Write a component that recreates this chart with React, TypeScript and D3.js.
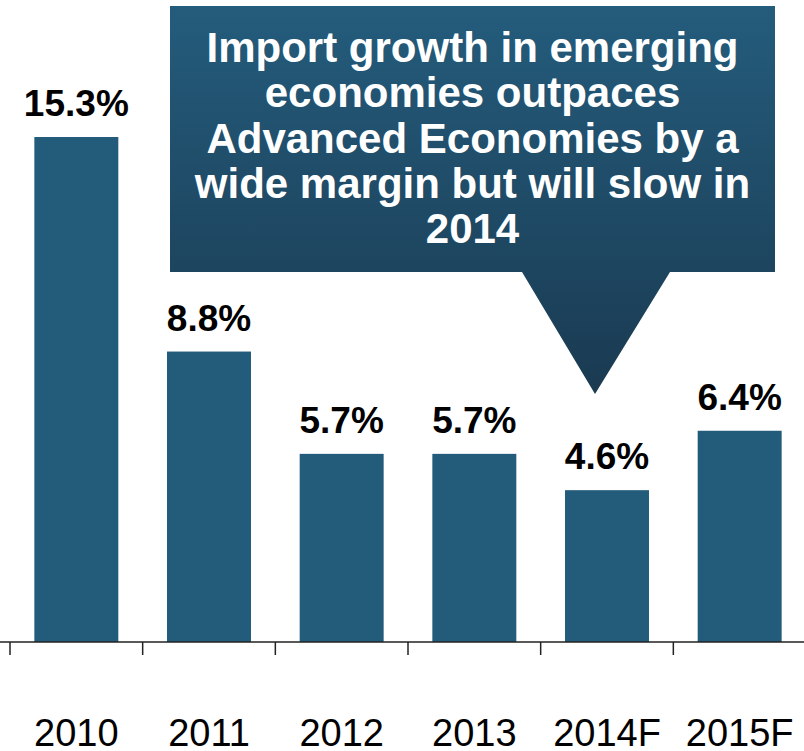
import React from 'react';
import * as d3 from 'd3';

const years = ['2010', '2011', '2012', '2013', '2014F', '2015F'];
const growth = [15.3, 8.8, 5.7, 5.7, 4.6, 6.4];
const calloutLines = [
  'Import growth in emerging',
  'economies outpaces',
  'Advanced Economies by a',
  'wide margin but will slow in',
  '2014',
];

const W = 804;
const H = 751;

const App: React.FC = () => {
  const baseY = 642;

  const x = d3.scaleBand<string>()
    .domain(years)
    .range([10, 806])
    .paddingInner(0.367)
    .paddingOuter(0.367 / 2);

  const y = d3.scaleLinear()
    .domain([0, 15.3])
    .range([baseY, 137]);

  const step = x.step();
  const tickXs = d3.range(years.length + 1).map(i => 10 + i * step);

  // callout geometry
  const box = { x0: 170, x1: 775, y0: 6, y1: 272 };
  const tip = { x: 595, y: 394, left: 522, right: 670 };
  const calloutPath = d3.path();
  calloutPath.moveTo(box.x0, box.y0);
  calloutPath.lineTo(box.x1, box.y0);
  calloutPath.lineTo(box.x1, box.y1);
  calloutPath.lineTo(tip.right, box.y1);
  calloutPath.lineTo(tip.x, tip.y);
  calloutPath.lineTo(tip.left, box.y1);
  calloutPath.lineTo(box.x0, box.y1);
  calloutPath.closePath();

  const font = '"Liberation Sans", Arial, sans-serif';

  return (
    <div style={{ position: 'absolute', left: 0, top: 0 }}>
      <svg width={W} height={H} style={{ display: 'block', background: '#fff' }}>
        <defs>
          <linearGradient id="callGrad" x1="0" y1={box.y0} x2="0" y2={tip.y} gradientUnits="userSpaceOnUse">
            <stop offset="0" stopColor="#245c7c" />
            <stop offset="1" stopColor="#1a3a51" />
          </linearGradient>
        </defs>

        {/* bars */}
        {years.map((yr, i) => (
          <rect
            key={yr}
            x={x(yr)}
            y={y(growth[i])}
            width={x.bandwidth()}
            height={baseY - y(growth[i])}
            fill="#235b7a"
          />
        ))}

        {/* value labels */}
        {years.map((yr, i) => (
          <text
            key={yr}
            x={(x(yr) || 0) + x.bandwidth() / 2}
            y={y(growth[i]) - 21}
            textAnchor="middle"
            fontFamily={font}
            fontWeight="bold"
            fontSize={37}
            fill="#000"
          >
            {growth[i].toFixed(1)}%
          </text>
        ))}

        {/* axis */}
        <line x1={0} x2={W} y1={baseY} y2={baseY} stroke="#222" strokeWidth={1.5} />
        {tickXs.map((tx, i) => (
          <line key={i} x1={tx} x2={tx} y1={baseY} y2={baseY + 13} stroke="#222" strokeWidth={1.5} />
        ))}
        {years.map(yr => (
          <text
            key={yr}
            x={(x(yr) || 0) + x.bandwidth() / 2}
            y={746}
            textAnchor="middle"
            fontFamily={font}
            fontSize={38}
            fill="#000"
          >
            {yr}
          </text>
        ))}

        {/* callout */}
        <path d={calloutPath.toString()} fill="url(#callGrad)" />
        {calloutLines.map((line, i) => (
          <text
            key={i}
            x={(box.x0 + box.x1) / 2}
            y={62 + i * 45.3}
            textAnchor="middle"
            fontFamily={font}
            fontWeight="bold"
            fontSize={42}
            fill="#fff"
          >
            {line}
          </text>
        ))}
      </svg>
    </div>
  );
};

export default App;
